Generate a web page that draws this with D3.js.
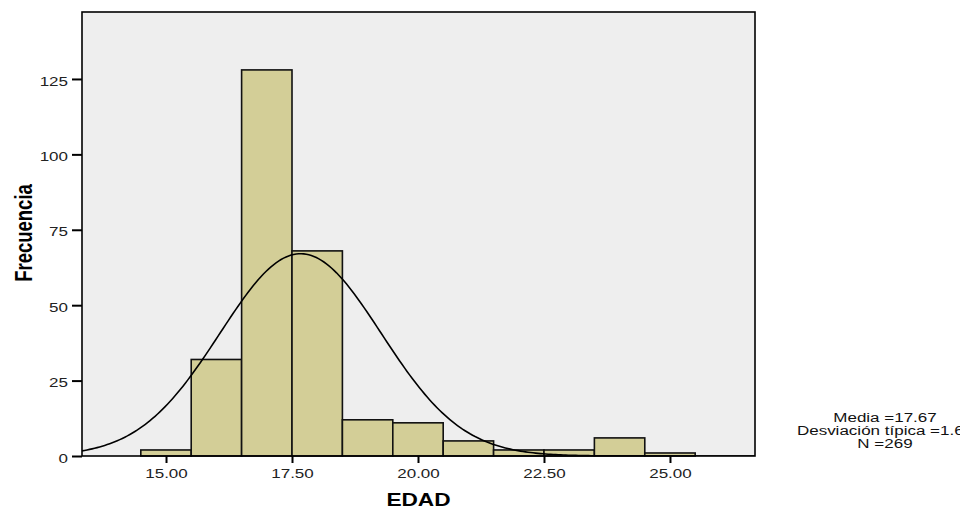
<!doctype html>
<html>
<head>
<meta charset="utf8">
<title>Histograma EDAD</title>
<script src="https://cdn.jsdelivr.net/npm/d3@7/dist/d3.min.js"></script>
<style>
  body { margin: 0; background: #fff; }
  svg text { font-family: "Liberation Sans", Arial, sans-serif; }
</style>
</head>
<body>
<div id="chart"></div>
<script>
"use strict";
// bins of width 1, centred on each age
const ages   = [15, 16, 17, 18, 19, 20, 21, 22, 23, 24, 25];
const counts = [2, 32, 128, 68, 12, 11, 5, 2, 2, 6, 1];
const xTicks = [15, 17.5, 20, 22.5, 25];
const yTicks = [0, 25, 50, 75, 100, 125];
const mean = 17.67, sd = 1.60, nTotal = 269;
const statLines = ["Media =17.67", "Desviación típica =1.60", "N =269"];

const W = 960, H = 510;
const plotL = 82, plotT = 12, plotR = 755, plotB = 456;
const stretch = 1.26; // the source picture is widened, text looks wide

const svg = d3.select("#chart").append("svg")
    .attr("width", W).attr("height", H);

const x = d3.scaleLinear().domain([13.333, 26.687]).range([plotL, plotR]);
const y = d3.scaleLinear().domain([0, 147.2]).range([plotB, plotT]);

svg.append("defs").append("clipPath").attr("id", "plotclip")
  .append("rect").attr("x", plotL).attr("y", plotT)
  .attr("width", plotR - plotL).attr("height", plotB - plotT);

// plot background
svg.append("rect")
    .attr("x", plotL).attr("y", plotT)
    .attr("width", plotR - plotL).attr("height", plotB - plotT)
    .attr("fill", "#eeeeee");

// bars
svg.append("g").selectAll("rect")
  .data(ages.map((a, i) => ({a: a, c: counts[i]})))
  .enter().append("rect")
    .attr("x", d => x(d.a - 0.5))
    .attr("y", d => y(d.c))
    .attr("width", d => x(d.a + 0.5) - x(d.a - 0.5))
    .attr("height", d => plotB - y(d.c))
    .attr("fill", "#d3ce97")
    .attr("stroke", "#111")
    .attr("stroke-width", 1.6);

// normal curve from mean / sd
const curvePts = d3.range(x.domain()[0], x.domain()[1] + 0.01, 0.05).map(v =>
    [v, nTotal / (sd * Math.sqrt(2 * Math.PI)) * Math.exp(-0.5 * Math.pow((v - mean) / sd, 2))]);
svg.append("path")
    .datum(curvePts)
    .attr("clip-path", "url(#plotclip)")
    .attr("fill", "none")
    .attr("stroke", "#000")
    .attr("stroke-width", 1.6)
    .attr("d", d3.line().x(d => x(d[0])).y(d => y(d[1])));

// frame
svg.append("rect")
    .attr("x", plotL).attr("y", plotT)
    .attr("width", plotR - plotL).attr("height", plotB - plotT)
    .attr("fill", "none").attr("stroke", "#000").attr("stroke-width", 1.6);

// axes
const xAxis = d3.axisBottom(x).tickValues(xTicks).tickFormat(d3.format(".2f"))
    .tickSizeInner(7).tickSizeOuter(0).tickPadding(5);
const gx = svg.append("g").attr("transform", `translate(0,${plotB})`).call(xAxis);
const yAxis = d3.axisLeft(y).tickValues(yTicks).tickSizeInner(10).tickSizeOuter(0).tickPadding(4);
const gy = svg.append("g").attr("transform", `translate(${plotL},0)`).call(yAxis);
[gx, gy].forEach(g => {
  g.select(".domain").remove();
  g.selectAll(".tick line").attr("stroke", "#000").attr("stroke-width", 2);
  g.selectAll(".tick text").attr("fill", "#222").style("font-size", "13.5px")
    .attr("transform", `scale(${stretch},1)`);
});
gy.selectAll(".tick text").attr("x", -14 / stretch).attr("dy", "0.45em");

// axis titles
svg.append("text")
    .attr("transform", `translate(${(plotL + plotR) / 2},506) scale(${stretch},1)`)
    .attr("text-anchor", "middle")
    .style("font-size", "18px").style("font-weight", "bold")
    .text("EDAD");
svg.append("text")
    .attr("transform", `translate(32,233) scale(${stretch},1) rotate(-90)`)
    .attr("text-anchor", "middle")
    .style("font-size", "18.5px").style("font-weight", "bold")
    .text("Frecuencia");

// stats block
svg.append("g").selectAll("text")
  .data(statLines).enter().append("text")
    .attr("transform", (d, i) => `translate(885,${422 + i * 13}) scale(${stretch},1)`)
    .attr("text-anchor", "middle")
    .attr("fill", "#111")
    .style("font-size", "13.5px")
    .text(d => d);
</script>
</body>
</html>
